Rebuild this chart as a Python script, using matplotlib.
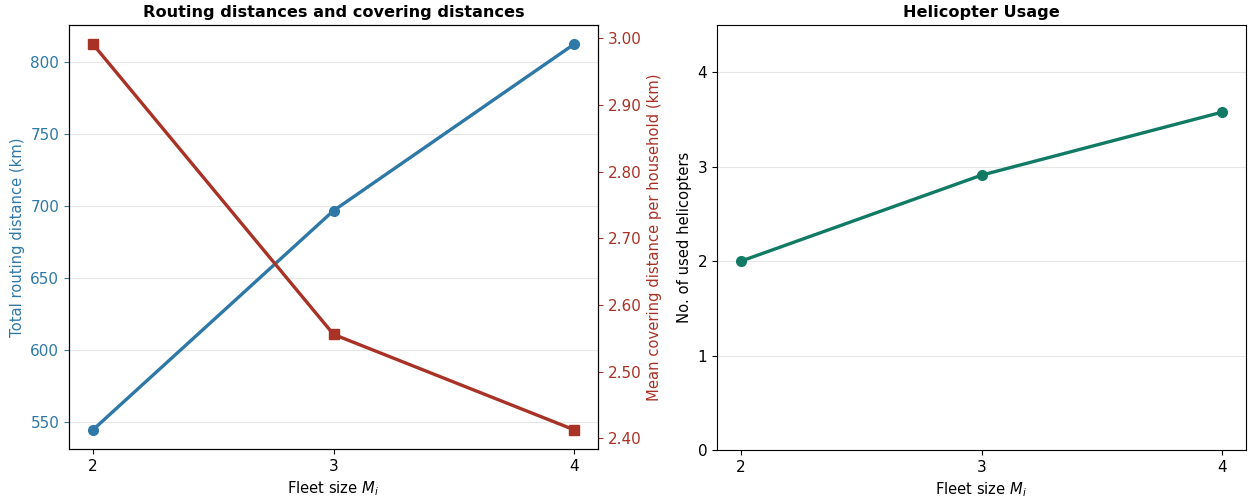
import numpy as np
import matplotlib
matplotlib.use('Agg')
import matplotlib.pyplot as plt

# data
fleet_size = [2, 3, 4]
routing_km = [544.5, 696.8, 812.5]
covering_km = [2.991, 2.556, 2.413]
helicopters_used = [2.0, 2.91, 3.577]

blue = '#2E78A8'
red = '#A93226'
green = '#117A65'

plt.rcParams['font.size'] = 11
plt.rcParams['axes.labelsize'] = 10.6

fig = plt.figure(figsize=(12.56, 4.99), dpi=100)
ax1 = fig.add_axes([69/1256, 1 - 449/499, (598 - 69)/1256, (449 - 25)/499])
ax3 = fig.add_axes([717/1256, 1 - 450/499, (1246 - 717)/1256, (450 - 25)/499])

# links: routing + covering
ax1.plot(fleet_size, routing_km, color=blue, marker='o', markersize=7, linewidth=2.4)
ax1.set_ylabel('Total routing distance (km)', color=blue)
ax1.tick_params(axis='y', colors=blue)
ax1.set_xlabel('Fleet size $M_i$')
ax1.set_xticks(fleet_size)
ax1.grid(True, axis='y', color='#e6e6e6', linewidth=0.8)
ax1.set_axisbelow(True)
ax1.set_title('Routing distances and covering distances', fontweight='bold', fontsize=11.6)

ax2 = ax1.twinx()
ax2.plot(fleet_size, covering_km, color=red, marker='s', markersize=7, linewidth=2.4)
ax2.set_ylabel('Mean covering distance per household (km)', color=red)
ax2.tick_params(axis='y', colors=red)
ax2.set_yticks([2.4, 2.5, 2.6, 2.7, 2.8, 2.9, 3.0])
ax2.set_yticklabels([f'{v:.2f}' for v in [2.4, 2.5, 2.6, 2.7, 2.8, 2.9, 3.0]])

# rechts: helikopters
ax3.plot(fleet_size, helicopters_used, color=green, marker='o', markersize=7, linewidth=2.4)
ax3.set_ylim(0, 4.5)
ax3.set_yticks([0, 1, 2, 3, 4])
ax3.set_xticks(fleet_size)
ax3.set_xlabel('Fleet size $M_i$')
ax3.set_ylabel('No. of used helicopters')
ax3.grid(True, axis='y', color='#e6e6e6', linewidth=0.8)
ax3.set_axisbelow(True)
ax3.set_title('Helicopter Usage', fontweight='bold', fontsize=11.6)

fig.savefig('out.png', dpi=100)
